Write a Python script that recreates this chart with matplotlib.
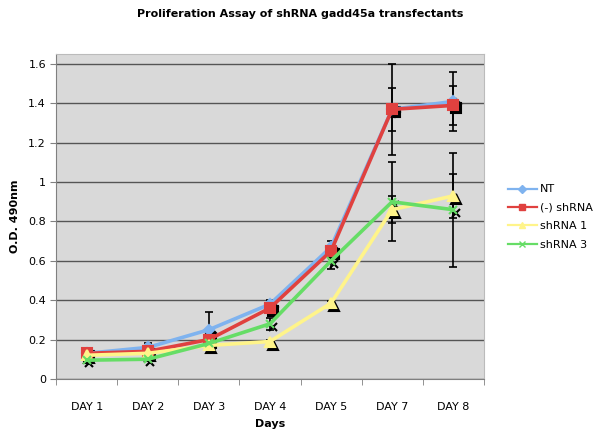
import numpy as np
import matplotlib
matplotlib.use("Agg")
import matplotlib.pyplot as plt
from matplotlib.lines import Line2D
from matplotlib.transforms import offset_copy

days = ["DAY 1", "DAY 2", "DAY 3", "DAY 4", "DAY 5", "DAY 7", "DAY 8"]

nt = [0.13, 0.16, 0.25, 0.38, 0.67, 1.37, 1.41]
neg = [0.13, 0.14, 0.20, 0.36, 0.65, 1.37, 1.39]
sh1 = [0.12, 0.13, 0.17, 0.19, 0.385, 0.86, 0.93]
sh3 = [0.095, 0.10, 0.18, 0.28, 0.60, 0.90, 0.86]

nt_err = [0.01, 0.02, 0.09, 0.02, 0.03, 0.23, 0.15]
neg_err = [0.01, 0.01, 0.02, 0.02, 0.02, 0.11, 0.10]
sh1_err = [0.01, 0.01, 0.01, 0.01, 0.01, 0.07, 0.11]
sh3_err = [0.01, 0.01, 0.01, 0.03, 0.04, 0.20, 0.29]

names = ["NT", "(-) shRNA", "shRNA 1", "shRNA 3"]
series = [nt, neg, sh1, sh3]
errs = [nt_err, neg_err, sh1_err, sh3_err]
colors = ["#7fb3ef", "#e0413f", "#fff48a", "#66dd66"]
markers = ["D", "s", "^", "x"]
msizes = [5, 6.5, 6.5, 6]

fig = plt.figure(figsize=(6, 4.34), dpi=100)
ax = fig.add_axes([0.094, 0.127, 0.712, 0.748])
ax.set_facecolor("#d9d9d9")

x = np.arange(len(days))

# error bars first (black)
for s, e in zip(series, errs):
    ax.errorbar(x, s, yerr=e, fmt="none", ecolor="black", elinewidth=1.2,
                capsize=3, capthick=1.2, zorder=2)

# black shadow markers, shifted down-right
shadow = offset_copy(ax.transData, fig=fig, x=2.5, y=-3, units="dots")
for s, m, ms in zip(series, markers, msizes):
    ax.plot(x, s, linestyle="none", marker=m, markersize=ms, color="black",
            markeredgewidth=1.5, transform=shadow, zorder=3)

for s, c, m, ms, n in zip(series, colors, markers, msizes, names):
    ax.plot(x, s, color=c, linewidth=2.6, marker=m, markersize=ms,
            markeredgewidth=1.5, label=n, zorder=4)

ax.set_xlim(-0.5, len(days) - 0.5)
ax.set_ylim(0, 1.65)
ax.set_yticks(np.arange(0, 1.61, 0.2))
ax.set_yticklabels(["0", "0.2", "0.4", "0.6", "0.8", "1", "1.2", "1.4", "1.6"])
ax.set_xticks(x)
ax.set_xticklabels(days)
ax.set_xticks(np.arange(-0.5, len(days), 1), minor=True)
ax.tick_params(axis="x", which="major", length=0, labelsize=8, pad=17)
ax.tick_params(axis="x", which="minor", length=4, color="#808080")
ax.tick_params(axis="y", labelsize=8, length=4, color="#808080")
ax.yaxis.grid(True, color="#555555", linewidth=1)
ax.set_axisbelow(True)
for sp in ["top", "right"]:
    ax.spines[sp].set_color("#bbbbbb")
for sp in ["left", "bottom"]:
    ax.spines[sp].set_color("#808080")

ax.set_xlabel("Days", fontsize=8, fontweight="bold", labelpad=5)
ax.set_ylabel("O.D. 490nm", fontsize=8, fontweight="bold", labelpad=6)
fig.text(0.5, 0.967, "Proliferation Assay of shRNA gadd45a transfectants",
         ha="center", va="center", fontsize=8, fontweight="bold")

handles = [Line2D([], [], color=c, linewidth=1.6, marker=m, markersize=4)
           for c, m in zip(colors, markers)]
fig.legend(handles, names, loc="center left", bbox_to_anchor=(0.83, 0.5),
           frameon=False, fontsize=8, handlelength=2.6, labelspacing=0.75,
           handletextpad=0.3)

fig.savefig("out.png", dpi=100)
